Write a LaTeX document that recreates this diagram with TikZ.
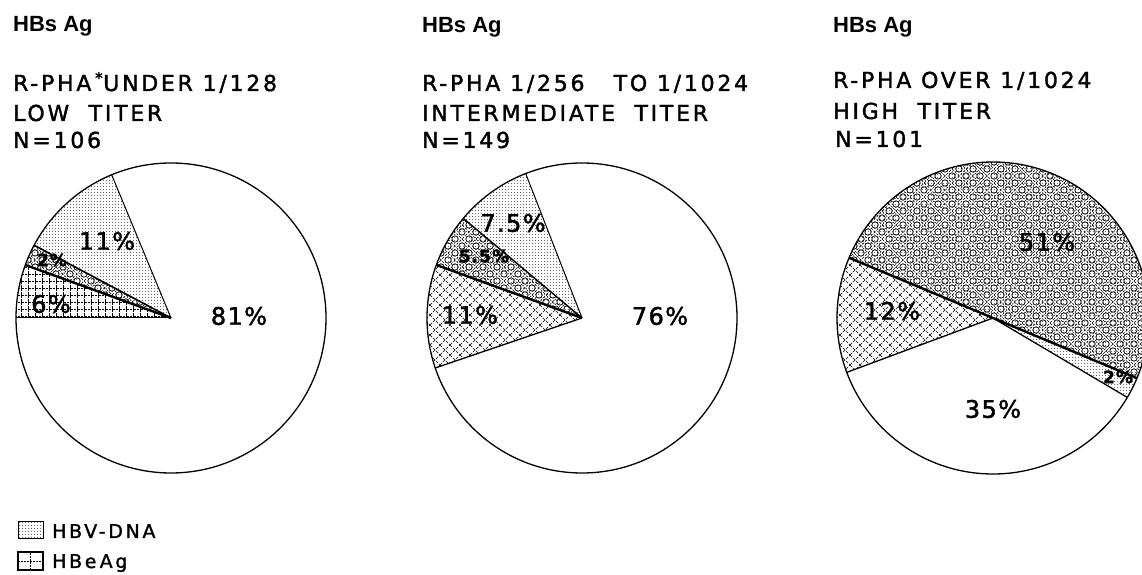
\documentclass[tikz,border=0pt]{standalone}
\usepackage{fontspec}
\setmainfont[LetterSpace=12.5,FakeBold=1.6]{DejaVu Sans}
\newfontfamily\hbfont{Liberation Sans}
\newfontfamily\legfont[LetterSpace=14,FakeBold=1.4]{DejaVu Sans}
\newfontfamily\pctfont[LetterSpace=6,FakeBold=1.8]{DejaVu Sans}
\usetikzlibrary{patterns}

\pgfdeclarepatternformonly{dotsx}{\pgfqpoint{-1pt}{-1pt}}{\pgfqpoint{4pt}{4pt}}{\pgfqpoint{3pt}{3pt}}%
{\pgfpathcircle{\pgfqpoint{1.5pt}{1.5pt}}{0.5pt}\pgfusepath{fill}}
\pgfdeclarepatternformonly{gridx}{\pgfqpoint{-0.5pt}{-0.5pt}}{\pgfqpoint{7.5pt}{7.5pt}}{\pgfqpoint{7pt}{7pt}}%
{\pgfsetlinewidth{0.6pt}\pgfsetdash{{2.5pt}{1pt}}{0pt}%
 \pgfpathmoveto{\pgfqpoint{0pt}{0pt}}\pgfpathlineto{\pgfqpoint{7pt}{0pt}}%
 \pgfpathmoveto{\pgfqpoint{0pt}{0pt}}\pgfpathlineto{\pgfqpoint{0pt}{7pt}}\pgfusepath{stroke}}
\pgfdeclarepatternformonly{xhatchx}{\pgfqpoint{-0.5pt}{-0.5pt}}{\pgfqpoint{10.5pt}{10.5pt}}{\pgfqpoint{10pt}{10pt}}%
{\pgfsetlinewidth{0.6pt}\pgfsetdash{{3pt}{1.2pt}}{0pt}%
 \pgfpathmoveto{\pgfqpoint{0pt}{0pt}}\pgfpathlineto{\pgfqpoint{10pt}{10pt}}%
 \pgfpathmoveto{\pgfqpoint{0pt}{10pt}}\pgfpathlineto{\pgfqpoint{10pt}{0pt}}\pgfusepath{stroke}}
\pgfdeclarepatternformonly{ringsx}{\pgfqpoint{-4pt}{-4pt}}{\pgfqpoint{18pt}{18pt}}{\pgfqpoint{14pt}{14pt}}%
{\pgfsetlinewidth{0.75pt}%
 \pgfpathcircle{\pgfqpoint{7pt}{0pt}}{3.2pt}%
 \pgfpathcircle{\pgfqpoint{0pt}{7pt}}{3.2pt}\pgfusepath{stroke}%
 \pgfsetlinewidth{0.5pt}\pgfsetdash{{2.5pt}{1.5pt}}{0pt}%
 \pgfpathmoveto{\pgfqpoint{0pt}{0pt}}\pgfpathlineto{\pgfqpoint{14pt}{14pt}}%
 \pgfpathmoveto{\pgfqpoint{0pt}{14pt}}\pgfpathlineto{\pgfqpoint{14pt}{0pt}}\pgfusepath{stroke}}

\newcommand\piesector[5]{\path[#5] (#1) -- ++(#3:#2) arc[start angle=#3,end angle=#4,radius=#2] -- cycle;}

\begin{document}
\begin{tikzpicture}[x=1pt,y=1pt,
  hdr/.style={anchor=base west, inner sep=0pt, font=\fontsize{22}{26}\selectfont},
  hbs/.style={anchor=base west, inner sep=0pt, font=\hbfont\bfseries\fontsize{22}{26}\selectfont},
  pct/.style={inner sep=0pt, font=\pctfont\fontsize{24}{26}\selectfont},
  pcts/.style={inner sep=0pt, font=\pctfont\bfseries\fontsize{17}{20}\selectfont},
  leg/.style={anchor=base west, inner sep=0pt, font=\legfont\fontsize{19}{22}\selectfont},
  rim/.style={line width=1.3pt},
  spoke/.style={line width=1pt},
  heavy/.style={line width=2.4pt},
  dotfill/.style={pattern=dotsx, pattern color=black!70},
  gridfill/.style={pattern=gridx, pattern color=black},
  hatchfill/.style={pattern=xhatchx, pattern color=black},
  ringfill/.style={pattern=ringsx, pattern color=black}]
\clip (0,0) rectangle (1142,575);
\fill[white] (0,0) rectangle (1142,575);

% ---------- headers ----------
\node[hbs] (h1) at (13,543) {HBs Ag};
\node[hdr] (t1a) at (13,484) {R-PHA\,\textsuperscript{*}UNDER 1/128};
\node[hdr] (t1b) at (13,454) {LOW\ \ TITER};
\node[hdr] (t1c) at (13,427) {N=106};

\node[hbs] (h2) at (422,542) {HBs Ag};
\node[hdr] (t2a) at (422,484) {R-PHA\ 1/256\ \ \ TO 1/1024};
\node[hdr] (t2b) at (422,454) {INTERMEDIATE\ \ TITER};
\node[hdr] (t2c) at (422,427) {N=149};

\node[hbs] (h3) at (833,542) {HBs Ag};
\node[hdr] (t3a) at (833,487) {R-PHA OVER 1/1024};
\node[hdr] (t3b) at (833,456) {HIGH\ \ TITER};
\node[hdr] (t3c) at (835,428) {N=101};

% ---------- pie 1 ----------
\coordinate (c1) at (171,257);
\piesector{c1}{155}{112.5}{152}{dotfill}
\piesector{c1}{155}{152}{160}{dotfill}
\piesector{c1}{155}{152}{160}{ringfill}
\piesector{c1}{155}{160}{180}{gridfill}
\draw[rim] (c1) circle[radius=155];
\draw[spoke] (c1) -- ++(112.5:155);
\draw[line width=1.6pt] (c1) -- ++(152:155);
\draw[heavy] (c1) -- ++(160:155);
\draw[spoke] (c1) -- ++(180:155);
\node[pct] (p1a) at (107,334) {11\%};
\node[pcts] (p1b) at (52,315) {2\%};
\node[pct] (p1c) at (51,271) {6\%};
\node[pct] (p1d) at (239,259) {81\%};

% ---------- pie 2 ----------
\coordinate (c2) at (582,257);
\piesector{c2}{155}{111.3}{140}{dotfill}
\piesector{c2}{155}{140}{160}{dotfill}
\piesector{c2}{155}{140}{160}{ringfill}
\piesector{c2}{155}{160}{198.8}{hatchfill}
\draw[rim] (c2) circle[radius=155];
\draw[spoke] (c2) -- ++(111.3:155);
\draw[line width=1.4pt] (c2) -- ++(140:155);
\draw[heavy] (c2) -- ++(160:155);
\draw[line width=1.3pt] (c2) -- ++(198.8:155);
\node[pct] (p2a) at (513,352) {7.5\%};
\node[pcts] (p2b) at (484,319) {5.5\%};
\node[pct] (p2c) at (470,260) {11\%};
\node[pct] (p2d) at (660,259) {76\%};

% ---------- pie 3 ----------
\coordinate (c3) at (993,257);
\piesector{c3}{156}{-22.7}{157.3}{dotfill}
\piesector{c3}{156}{-22.7}{157.3}{ringfill}
\piesector{c3}{156}{157.3}{200.4}{hatchfill}
\piesector{c3}{156}{-30.6}{-22.7}{dotfill}
\draw[rim] (c3) circle[radius=156];
\draw[heavy] (c3) -- ++(157.3:156);
\draw[heavy] (c3) -- ++(-22.7:156);
\draw[line width=1.3pt] (c3) -- ++(200.4:156);
\draw[line width=1.3pt] (c3) -- ++(-30.6:156);
\node[pct] (p3a) at (1047,333) {51\%};
\node[pct] (p3b) at (892,264) {12\%};
\node[pct] (p3c) at (993,166) {35\%};
\node[pcts] (p3d) at (1118,198) {2\%};

% ---------- legend ----------
\path[dotfill] (18,36) rectangle (43,53);
\draw[line width=1pt] (18,36) rectangle (43,53);
\node[leg] (l1) at (52,37) {HBV-DNA};
\draw[line width=1.2pt] (18,5) rectangle (43,23);
\draw[line width=0.7pt, dash pattern=on 2pt off 1pt] (30.5,5) -- (30.5,23) (18,14) -- (43,14);
\node[leg] (l2) at (52,7) {HBe\,Ag};
\end{tikzpicture}
\end{document}
